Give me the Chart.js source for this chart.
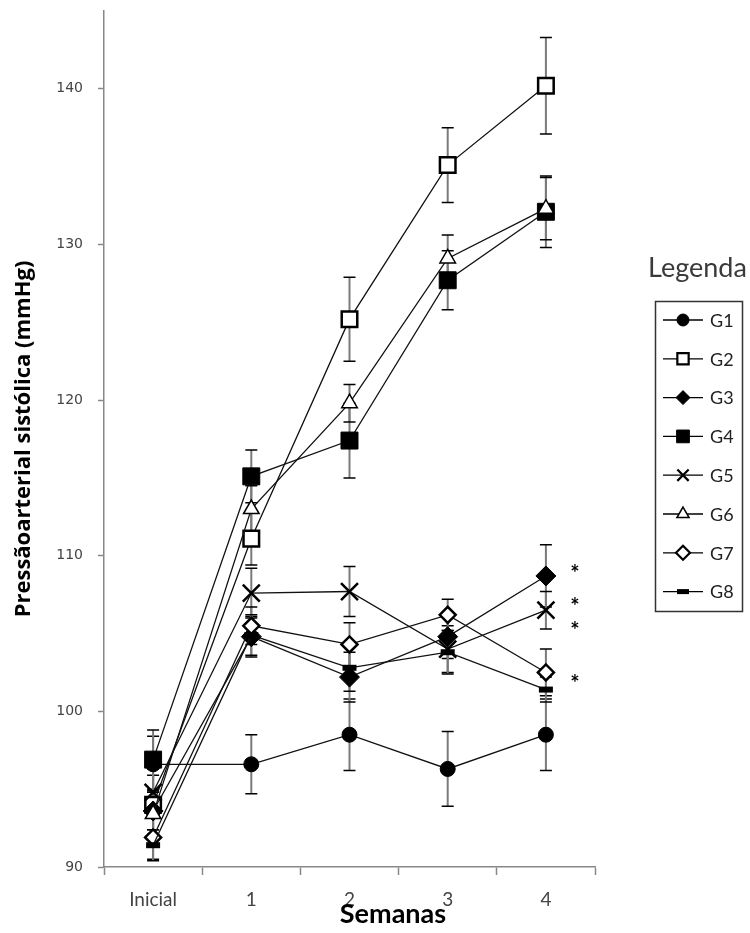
<!DOCTYPE html>
<html>
<head>
<meta charset="utf-8">
<script src="https://cdn.jsdelivr.net/npm/chart.js@4"></script>
<style>
  html, body { margin: 0; padding: 0; background: #fff; }
</style>
</head>
<body>
<canvas id="chart" width="750" height="933"></canvas>
<script>
const semanas = ["Inicial", "1", "2", "3", "4"];
const yTicks = [90, 100, 110, 120, 130, 140];

const g1 = [96.6, 96.6, 98.5, 96.3, 98.5];
const g2 = [94.0, 111.1, 125.2, 135.1, 140.2];
const g3 = [93.6, 104.8, 102.2, 104.8, 108.7];
const g4 = [96.9, 115.1, 117.4, 127.7, 132.1];
const g5 = [94.8, 107.6, 107.7, 104.0, 106.5];
const g6 = [93.4, 113.0, 119.8, 129.1, 132.3];
const g7 = [91.9, 105.5, 104.3, 106.2, 102.5];
const g8 = [91.4, 104.9, 102.8, 103.8, 101.4];

// erro padrão de cada ponto
const e1 = [1.8, 1.9, 2.3, 2.4, 2.3];
const e2 = [1.9, 1.7, 2.7, 2.4, 3.1];
const e3 = [1.2, 1.3, 1.6, 1.4, 2.0];
const e4 = [1.9, 1.7, 2.4, 1.9, 2.3];
const e5 = [1.5, 1.6, 1.6, 1.5, 1.2];
const e6 = [1.5, 1.5, 1.2, 1.5, 2.0];
const e7 = [1.4, 1.2, 1.4, 1.0, 1.5];
const e8 = [1.0, 1.3, 1.5, 1.4, 0.8];

// asteriscos da semana 4
const asteriscos = [109.1, 107.0, 105.4, 102.0];

const grupos = [
  { label: "G1", data: g1, err: e1, style: "circle", radius: 7.5, fill: "#000", bw: 1, lr: 6 },
  { label: "G2", data: g2, err: e2, style: "rect", radius: 11, fill: "#fff", bw: 2.5, lr: 8 },
  { label: "G3", data: g3, err: e3, style: "rectRot", radius: 10, fill: "#000", bw: 1, lr: 7 },
  { label: "G4", data: g4, err: e4, style: "rect", radius: 12, fill: "#000", bw: 1, lr: 9 },
  { label: "G5", data: g5, err: e5, style: "crossRot", radius: 12, fill: "#000", bw: 2.5, lr: 8 },
  { label: "G6", data: g6, err: e6, style: "triangle", radius: 9, fill: "#fff", bw: 1.5, lr: 7 },
  { label: "G7", data: g7, err: e7, style: "rectRot", radius: 8, fill: "#fff", bw: 2.5, lr: 7 },
  { label: "G8", data: g8, err: e8, style: "line", radius: 7, fill: "#000", bw: 6, lr: 6 },
];

const errorBars = {
  id: "errorBars",
  beforeDatasetsDraw(chart) {
    const ctx = chart.ctx;
    const x = chart.scales.x, y = chart.scales.y;
    ctx.save();
    grupos.forEach((g) => {
      g.data.forEach((v, i) => {
        const px = x.getPixelForValue(i);
        const top = y.getPixelForValue(v + g.err[i]);
        const bot = y.getPixelForValue(v - g.err[i]);
        ctx.strokeStyle = "#7a7a7a";
        ctx.lineWidth = 2;
        ctx.beginPath();
        ctx.moveTo(px, top);
        ctx.lineTo(px, bot);
        ctx.stroke();
        ctx.strokeStyle = "#000";
        ctx.lineWidth = 1.5;
        ctx.beginPath();
        ctx.moveTo(px - 6, top);
        ctx.lineTo(px + 6, top);
        ctx.moveTo(px - 6, bot);
        ctx.lineTo(px + 6, bot);
        ctx.stroke();
      });
    });
    ctx.restore();
  },
};

const extras = {
  id: "extras",
  afterDraw(chart) {
    const ctx = chart.ctx;
    const x = chart.scales.x, y = chart.scales.y;
    ctx.save();

    // titulo do eixo x
    ctx.fillStyle = "#000";
    ctx.font = "bold 27px Lato";
    ctx.textAlign = "center";
    ctx.textBaseline = "middle";
    ctx.fillText("Semanas", 393, 914);

    // asteriscos
    ctx.font = "bold 22px Lato";
    const ax = x.getPixelForValue(4) + 29;
    asteriscos.forEach((v) => {
      ctx.fillText("*", ax, y.getPixelForValue(v) + 4);
    });

    // legenda
    ctx.fillStyle = "#3a3a3a";
    ctx.font = "27px Lato";
    ctx.textAlign = "left";
    ctx.fillText("Legenda", 648, 268);

    ctx.strokeStyle = "#333";
    ctx.lineWidth = 1.5;
    ctx.strokeRect(655.5, 301.5, 87, 310);

    grupos.forEach((g, i) => {
      const yy = 320 + i * 38.8;
      ctx.strokeStyle = "#000";
      ctx.lineWidth = 1.3;
      ctx.beginPath();
      ctx.moveTo(663, yy);
      ctx.lineTo(703, yy);
      ctx.stroke();
      ctx.fillStyle = g.fill;
      ctx.lineWidth = g.style === "line" ? 5 : Math.min(g.bw, 2.2);
      Chart.helpers.drawPoint(ctx, { pointStyle: g.style, radius: g.lr, rotation: 0, borderWidth: ctx.lineWidth }, 683, yy);
      ctx.fillStyle = "#222";
      ctx.font = "18px Lato";
      ctx.textBaseline = "middle";
      ctx.fillText(g.label, 710, yy + 1);
    });
    ctx.restore();
  },
};

new Chart(document.getElementById("chart"), {
  type: "line",
  data: {
    labels: semanas,
    datasets: grupos.map((g, i) => ({
      label: g.label,
      data: g.data,
      borderColor: "#111",
      borderWidth: 1.3,
      tension: 0,
      pointStyle: g.style,
      pointRadius: g.radius,
      pointBackgroundColor: g.fill,
      pointBorderColor: "#000",
      pointBorderWidth: g.bw,
      order: 8 - i,
    })),
  },
  options: {
    responsive: false,
    animation: false,
    layout: { autoPadding: false, padding: { top: 11, right: 155, left: 0, bottom: 0 } },
    plugins: { legend: { display: false }, tooltip: { enabled: false } },
    scales: {
      x: {
        offset: true,
        grid: { offset: true, drawOnChartArea: false, tickLength: 8, color: "#888", tickWidth: 1.5 },
        border: { color: "#888", width: 1.5 },
        ticks: { color: "#444", font: { family: "Lato", size: 19 }, padding: 13 },
        afterFit: (scale) => { scale.height = 66; scale.paddingLeft = 0; scale.paddingRight = 0; },
      },
      y: {
        min: 90,
        max: 145,
        afterBuildTicks: (scale) => {
          scale.ticks = yTicks.map((v) => ({ value: v }));
        },
        grid: { drawOnChartArea: false, tickLength: 6, color: "#888", tickWidth: 1.5 },
        border: { color: "#888", width: 1.5 },
        ticks: { color: "#444", font: { family: "DejaVu Sans", size: 14 }, padding: 15 },
        title: {
          display: true,
          text: "Pressãoarterial sistólica (mmHg)",
          color: "#000",
          font: { family: "Open Sans", size: 22, weight: "bold" },
          padding: { top: 11, bottom: 0 },
        },
        afterFit: (scale) => { scale.width = 104; scale.paddingTop = 0; scale.paddingBottom = 0; },
      },
    },
  },
  plugins: [errorBars, extras],
});
</script>
</body>
</html>
